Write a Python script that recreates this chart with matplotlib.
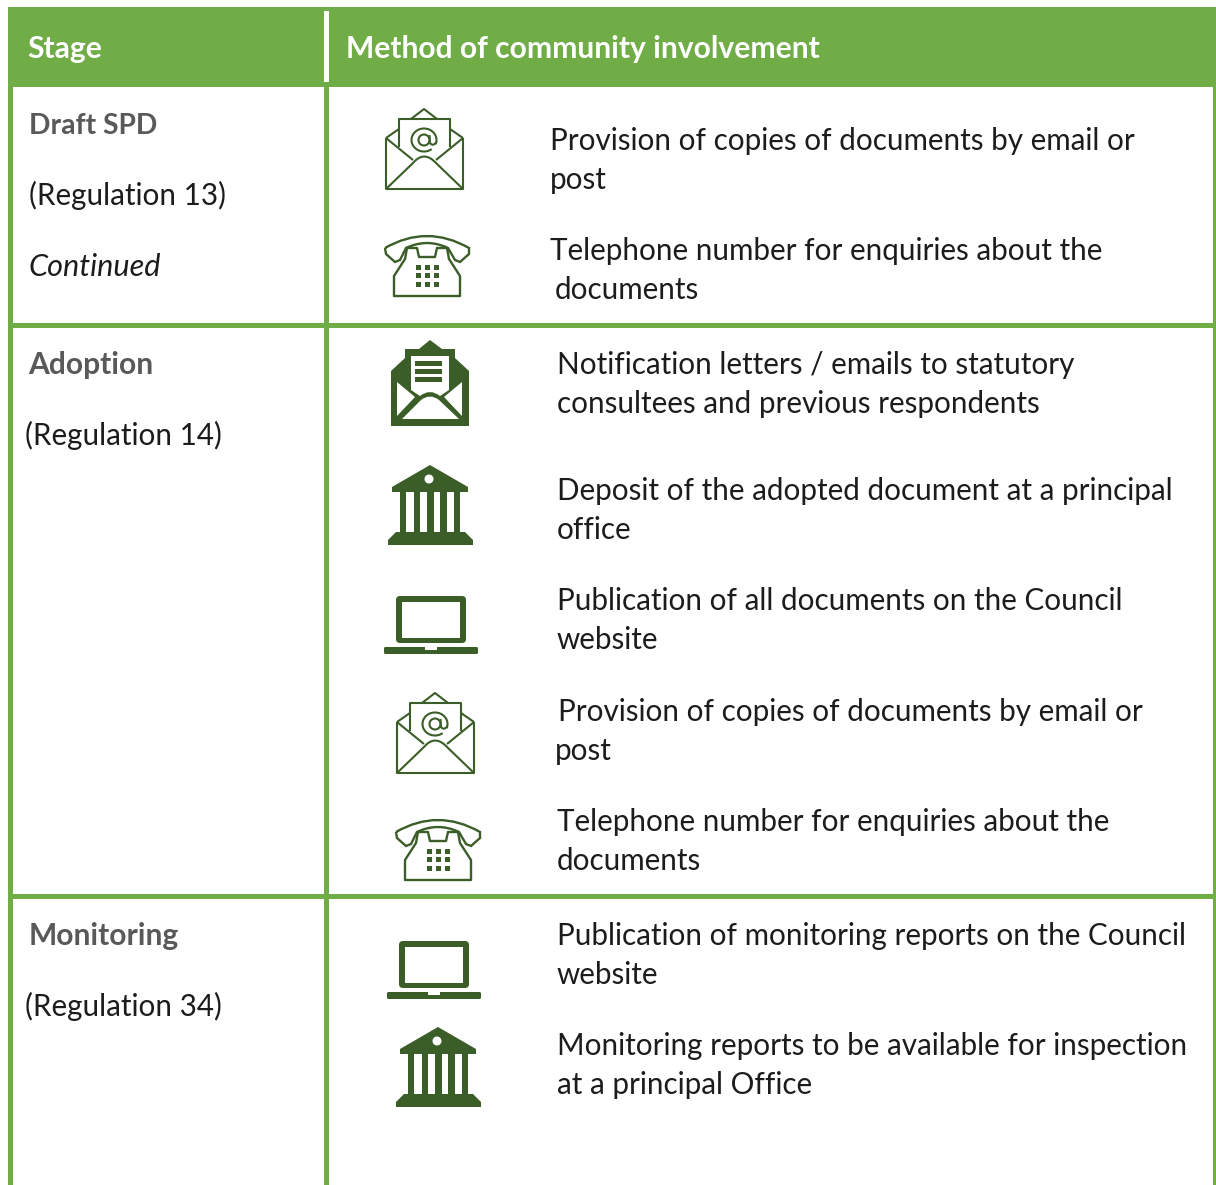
#!/usr/bin/env python3
# coding: utf-8

from matplotlib import pyplot as plt
from matplotlib.patches import Rectangle, Polygon, Circle, PathPatch, FancyBboxPatch, Arc
from matplotlib.path import Path

plt.rcParams['font.family'] = ['Lato', 'DejaVu Sans']

GREEN = "#70AD47"
ICON = "#3B5D27"
GREY = "#595959"
TEXT = "#1c1c1c"
FS = 21.35
FS_BOLD = 21.6

header = ["Stage", "Method of community involvement"]
stage_names = ["Draft SPD", "Adoption", "Monitoring"]
stage_regs = ["(Regulation 13)", "(Regulation 14)", "(Regulation 34)"]
stage_note = "Continued"

methods_draft = [
    ("env_line", "Provision of copies of documents by email or", "post"),
    ("phone", "Telephone number for enquiries about the", "documents"),
]
methods_adoption = [
    ("env_solid", "Notification letters / emails to statutory", "consultees and previous respondents"),
    ("bank", "Deposit of the adopted document at a principal", "office"),
    ("laptop", "Publication of all documents on the Council", "website"),
    ("env_line", "Provision of copies of documents by email or", "post"),
    ("phone", "Telephone number for enquiries about the", "documents"),
]
methods_monitoring = [
    ("laptop", "Publication of monitoring reports on the Council", "website"),
    ("bank", "Monitoring reports to be available for inspection", "at a principal Office"),
]

fig = plt.figure(figsize=(12.16, 11.85), dpi=100)
ax = fig.add_axes([0, 0, 1, 1])
ax.set_xlim(0, 1216)
ax.set_ylim(1185, 0)
ax.axis("off")


def shift(pts, x, y):
    return [(x + a, y + b) for a, b in pts]


def line(pts, x, y, lw=1.5, close=False):
    ax.add_patch(Polygon(shift(pts, x, y), closed=close, fill=False, edgecolor=ICON,
                         linewidth=lw, joinstyle="round", zorder=3))


def curve(codes_pts, x, y, lw=1.5, fc="none", ec=ICON, zorder=3):
    verts = shift([p for _, p in codes_pts], x, y)
    codes = [c for c, _ in codes_pts]
    ax.add_patch(PathPatch(Path(verts, codes), facecolor=fc, edgecolor=ec, linewidth=lw, zorder=zorder))


def env_line(x, y):
    line([(0, 29), (0, 80), (77, 80), (77, 29)], x, y)
    line([(0, 29), (13, 20)], x, y)
    line([(77, 29), (64, 20)], x, y)
    line([(13, 38), (13, 10), (64, 10), (64, 38)], x, y)
    line([(25, 10), (38, 0), (51, 10)], x, y)
    line([(0, 29), (27, 51)], x, y)
    line([(77, 29), (50, 51)], x, y)
    curve([(Path.MOVETO, (0, 80)), (Path.LINETO, (27, 54)),
           (Path.CURVE3, (38, 41)), (Path.CURVE3, (50, 54)), (Path.LINETO, (77, 80))], x, y)
    # the @ sign
    ax.add_patch(Arc((x + 38, y + 31), 25, 23, theta1=-310, theta2=20, edgecolor=ICON, linewidth=1.5, zorder=3))
    ax.add_patch(Circle((x + 38, y + 31), 5.5, fill=False, edgecolor=ICON, linewidth=1.5, zorder=3))
    curve([(Path.MOVETO, (43.5, 26)), (Path.LINETO, (44, 34)),
           (Path.CURVE3, (47, 38)), (Path.CURVE3, (50.5, 33))], x, y)


def phone(x, y):
    curve([(Path.MOVETO, (0, 15)), (Path.CURVE3, (42, -9)), (Path.CURVE3, (84, 15)),
           (Path.LINETO, (84, 21)), (Path.LINETO, (75, 29)), (Path.LINETO, (70, 27)),
           (Path.LINETO, (63, 15)), (Path.CURVE3, (42, 5)), (Path.CURVE3, (21, 15)),
           (Path.LINETO, (15, 27)), (Path.LINETO, (10, 29)), (Path.LINETO, (1, 21)),
           (Path.LINETO, (0, 15))], x, y, lw=1.7)
    line([(9, 63), (9, 43), (20, 26), (22, 15), (32, 15), (34, 24), (50, 24), (52, 15),
          (62, 15), (64, 26), (75, 43), (75, 63)], x, y, lw=1.7, close=True)
    for dx in (33, 42, 51):
        for dy in (34, 42, 51):
            ax.add_patch(Rectangle((x + dx - 2, y + dy - 2), 4.5, 4.5, color=ICON, lw=0, zorder=3))


def env_solid(x, y):
    ax.add_patch(Polygon(shift([(0, 31), (14, 18), (14, 9), (28, 9), (39, 0), (51, 9), (64, 9), (64, 18),
                                (78, 31), (78, 86), (0, 86)], x, y), color=ICON, lw=0, zorder=3))
    curve([(Path.MOVETO, (20, 16)), (Path.LINETO, (58, 16)), (Path.LINETO, (58, 50)), (Path.LINETO, (49, 56)),
           (Path.CURVE3, (39, 48)), (Path.CURVE3, (29, 56)), (Path.LINETO, (20, 50)), (Path.LINETO, (20, 16))],
          x, y, lw=0, fc="white", ec="white", zorder=4)
    for dy in (21, 29, 37):
        ax.add_patch(Rectangle((x + 24, y + dy), 27, 5, color=ICON, lw=0, zorder=5))
    ax.add_patch(Polygon(shift([(6, 42), (24, 57), (6, 76)], x, y), color="white", lw=0, zorder=4))
    ax.add_patch(Polygon(shift([(71, 42), (53, 57), (71, 76)], x, y), color="white", lw=0, zorder=4))
    curve([(Path.MOVETO, (11, 79)), (Path.LINETO, (30, 60)), (Path.CURVE3, (39, 53)), (Path.CURVE3, (48, 60)),
           (Path.LINETO, (68, 79)), (Path.LINETO, (11, 79))], x, y, lw=0, fc="white", ec="white", zorder=4)


def bank(x, y):
    ax.add_patch(Polygon(shift([(42, 0), (4, 22), (4, 27), (80, 27), (80, 22)], x, y), color=ICON, lw=0, zorder=3))
    ax.add_patch(Circle((x + 41, y + 14), 4.5, color="white", lw=0, zorder=4))
    for a, b in ((12, 18), (26, 32), (39, 46), (52, 59), (66, 72)):
        ax.add_patch(Rectangle((x + a, y + 27), b - a, 41, color=ICON, lw=0, zorder=3))
    ax.add_patch(Polygon(shift([(8, 67), (77, 67), (85, 75), (85, 80), (0, 80), (0, 75)], x, y),
                         color=ICON, lw=0, zorder=3))


def laptop(x, y):
    ax.add_patch(FancyBboxPatch((x + 2, y + 2), 66, 43, boxstyle="round,pad=2,rounding_size=4",
                                color=ICON, lw=0, zorder=3))
    ax.add_patch(Rectangle((x + 6, y + 6), 58, 36, color="white", lw=0, zorder=4))
    ax.add_patch(FancyBboxPatch((x - 11, y + 52), 92, 5, boxstyle="round,pad=1,rounding_size=1.5",
                                color=ICON, lw=0, zorder=3))
    ax.add_patch(Rectangle((x + 29, y + 51), 12, 2.5, color="white", lw=0, zorder=4))


icons = {"env_line": env_line, "phone": phone, "env_solid": env_solid, "bank": bank, "laptop": laptop}

# table frame
ax.add_patch(Rectangle((8, 7), 1208, 80, color=GREEN, lw=0))
ax.add_patch(Rectangle((8, 87), 5, 1098, color=GREEN, lw=0))
ax.add_patch(Rectangle((1213, 87), 3, 1098, color=GREEN, lw=0))
ax.add_patch(Rectangle((324, 87), 5, 1098, color=GREEN, lw=0))
ax.add_patch(Rectangle((324, 11), 5, 71, color="white", lw=0))
for ry in (323, 894):
    ax.add_patch(Rectangle((8, ry), 1208, 4.5, color=GREEN, lw=0))

ax.text(27, 58, header[0], color="white", fontsize=FS_BOLD, fontweight="bold", va="baseline")
ax.text(346, 58, header[1], color="white", fontsize=FS_BOLD, fontweight="bold", va="baseline")

# left column
name_pos = [(29, 134), (28, 374), (29, 945)]
name_sizes = [20.3, FS_BOLD, FS_BOLD]
reg_pos = [(29, 205), (25, 445), (25, 1016)]
for name, (nx, ny), size in zip(stage_names, name_pos, name_sizes):
    ax.text(nx, ny, name, color=GREY, fontsize=size, fontweight="bold", va="baseline")
for reg, (rx, ry) in zip(stage_regs, reg_pos):
    ax.text(rx, ry, reg, color=TEXT, fontsize=FS, va="baseline")
ax.text(29, 276, stage_note, color=TEXT, fontsize=22.1, fontstyle="italic", va="baseline")

# right column: icon corner, x of both text lines, baseline of the first line
rows = [
    (methods_draft, [(386, 109, 550, 550, 150), (385, 233, 550, 555, 260)]),
    (methods_adoption, [(391, 340, 557, 557, 374), (388, 465, 557, 557, 500), (396, 596, 557, 557, 610),
                        (397, 693, 558, 555, 721), (396, 817, 557, 557, 831)]),
    (methods_monitoring, [(399, 941, 557, 557, 945), (396, 1027, 557, 557, 1055)]),
]
for methods, places in rows:
    for (icon, first, second), (ix, iy, tx1, tx2, base) in zip(methods, places):
        icons[icon](ix, iy)
        ax.text(tx1, base, first, color=TEXT, fontsize=FS, va="baseline")
        ax.text(tx2, base + 39, second, color=TEXT, fontsize=FS, va="baseline")

plt.savefig("out.png", dpi=100)
